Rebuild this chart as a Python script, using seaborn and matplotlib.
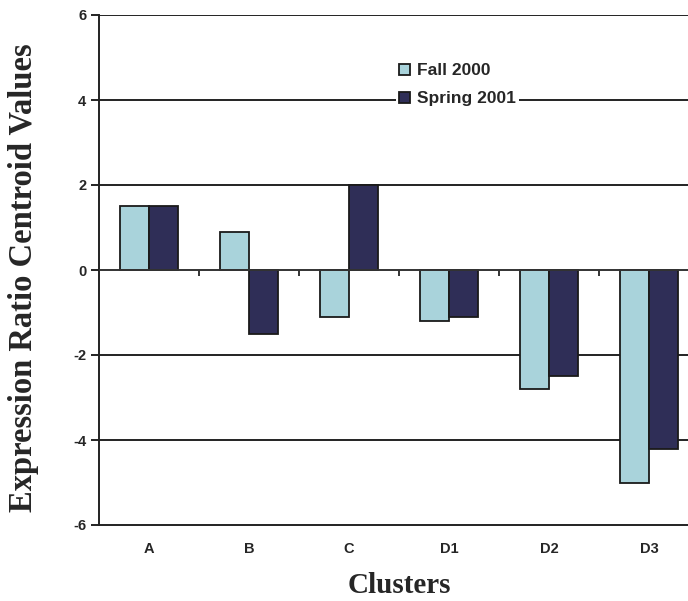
import numpy as np
import pandas as pd
import matplotlib
matplotlib.use("Agg")
import matplotlib.pyplot as plt
import seaborn as sns

clusters = ["A", "B", "C", "D1", "D2", "D3"]
fall_2000 = [1.5, 0.9, -1.1, -1.2, -2.8, -5.0]
spring_2001 = [1.5, -1.5, 2.0, -1.1, -2.5, -4.2]
seasons = ["Fall 2000", "Spring 2001"]
season_colors = ["#a9d3db", "#2f2e57"]

df = pd.DataFrame({
    "cluster": clusters * 2,
    "value": fall_2000 + spring_2001,
    "season": [seasons[0]] * len(clusters) + [seasons[1]] * len(clusters),
})

sns.set_style("white")
plt.rcParams["font.family"] = ["Liberation Sans", "DejaVu Sans"]
plt.rcParams["axes.unicode_minus"] = False

fig = plt.figure(figsize=(6.88, 6.01), dpi=100)
ax = fig.add_axes([99 / 688, 1 - 525 / 601, 600 / 688, 510 / 601])

sns.barplot(data=df, x="cluster", y="value", hue="season", order=clusters,
            hue_order=seasons, palette=season_colors, width=0.58, gap=0,
            edgecolor="#1a1a1a", linewidth=1.3, saturation=1, ax=ax, zorder=3)

ax.set_xlim(-0.5, len(clusters) - 0.5)
ax.set_ylim(-6, 6)
ax.set_yticks(np.arange(-6, 7, 2))

# gridlines like the old Excel chart
for yv in [-4, -2, 2, 4, 6]:
    ax.axhline(yv, color="#222222", lw=1.4, zorder=1)
ax.axhline(0, color="#333333", lw=1.4, zorder=4)
bounds = np.arange(len(clusters) - 1) + 0.5
ax.vlines(bounds, 0, -0.15, color="#333333", lw=1.4, zorder=4)

for s in ["top", "right"]:
    ax.spines[s].set_visible(False)
ax.spines["left"].set_color("#222222")
ax.spines["left"].set_linewidth(1.4)
ax.spines["bottom"].set_color("#222222")
ax.spines["bottom"].set_linewidth(1.4)

ax.set_xticks(np.arange(len(clusters)))
ax.set_xticklabels(clusters, fontsize=10.5, fontweight="bold")
ax.set_xticks(np.arange(len(clusters) + 1) - 0.5, minor=True)
ax.tick_params(axis="x", which="major", length=0, pad=12)
ax.tick_params(axis="x", which="minor", length=5, width=1.4, color="#333333",
               direction="out")
ax.tick_params(axis="y", length=6, width=1.4, color="#222222", direction="out",
               pad=3, left=True)
for lab in ax.get_yticklabels():
    lab.set_fontweight("bold")
    lab.set_fontsize(10.5)

ax.set_xlabel("Clusters", family="Liberation Serif", fontweight="bold",
              fontsize=21, labelpad=12)
ax.set_ylabel("Expression Ratio Centroid Values", family="Liberation Serif",
              fontweight="bold", fontsize=23.5)
ax.yaxis.set_label_coords(-0.1, 0.485)

leg = ax.legend(loc="center left", bbox_to_anchor=(0.495, 0.863), frameon=True,
                facecolor="white", edgecolor="none", framealpha=1,
                prop={"weight": "bold", "size": 12.5}, handlelength=0.6,
                handleheight=0.6, handletextpad=0.4, labelspacing=0.75,
                borderpad=0.2, borderaxespad=0, fancybox=False)
leg.set_zorder(5)

fig.savefig("out.png", dpi=100)
